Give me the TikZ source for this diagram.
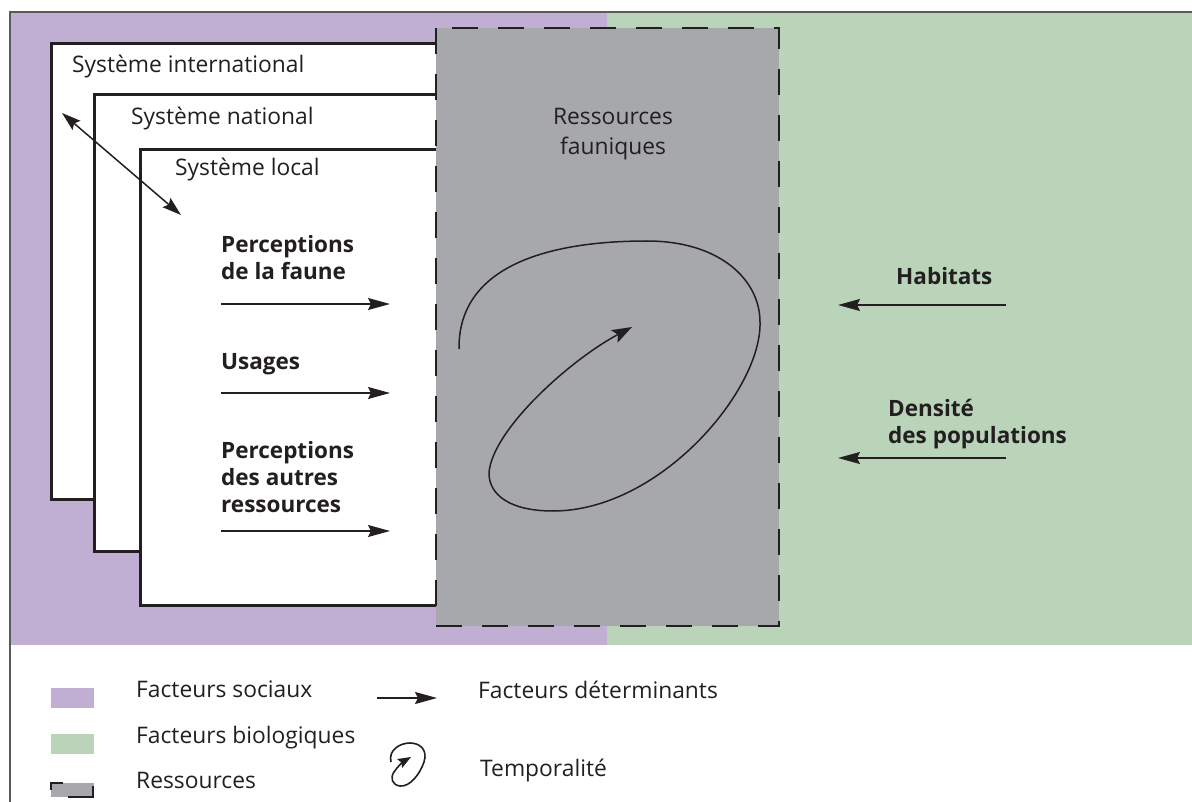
\documentclass[tikz,border=0pt]{standalone}
\usepackage{fontspec}
\setmainfont{Open Sans}
\usetikzlibrary{arrows.meta}
\definecolor{social}{RGB}{192,174,211}
\definecolor{bio}{RGB}{185,212,185}
\definecolor{resgray}{RGB}{167,168,171}
\definecolor{ink}{RGB}{35,31,32}
\definecolor{frame}{RGB}{90,90,90}
\tikzset{
  sysbox/.style={draw=ink, line width=3pt, fill=white},
  lbl/.style={anchor=base west, inner sep=0pt, text=ink, font=\fontsize{22.8}{30}\selectfont},
  blbl/.style={anchor=base west, inner sep=0pt, text=ink, font=\fontsize{22.5}{27}\selectfont\bfseries},
  det/.style={draw=ink, line width=1.5pt, -{Stealth[length=22pt,width=12pt,inset=3pt]}},
  dbl/.style={draw=ink, line width=1.5pt, {Stealth[length=19pt,width=12pt,inset=3pt]}-{Stealth[length=19pt,width=12pt,inset=3pt]}},
  spiral/.style={draw=ink, line width=1.5pt, -{Stealth[length=20pt,width=14pt,inset=4pt]}},
}
\begin{document}
\begin{tikzpicture}[x=1pt,y=-1pt]
\useasboundingbox (0,0) rectangle (1192,802);
% background areas
\fill[social] (10,12) rectangle (607,645);
\fill[bio] (607,12) rectangle (1192,645);
\draw[frame, line width=1.4pt] (1192,12) -- (10,12) -- (10,802);
% system boxes
\draw[sysbox] (51,44) rectangle (440,499);
\draw[sysbox] (94,95) rectangle (440,551);
\draw[sysbox] (140,150) rectangle (440,605);
\node[lbl] (sint) at (72,73) {Système international};
\node[lbl] (snat) at (131,125) {Système national};
\node[lbl] (sloc) at (175,176) {Système local};
% double arrow between systems
\coordinate (da1) at (62,113);
\coordinate (da2) at (181,215);
\draw[dbl] (da1) -- (da2);
% resources box
\draw[draw=ink, fill=resgray, line width=2.5pt, dash pattern=on 26pt off 20pt] (436,28) rectangle (779,626);
\node[lbl, anchor=base] (res) at (613,125) {\begin{tabular}[t]{@{}c@{}}Ressources\\fauniques\end{tabular}};
% spiral
\draw[spiral] (459,349) .. controls (458,270) and (540,241) .. (647,241)
  .. controls (720,241) and (760,280) .. (760,322)
  .. controls (762,390) and (660,511) .. (553,511)
  .. controls (510,511) and (489,495) .. (489,473)
  .. controls (492,430) and (570,360) .. (632,327);
% social determinants
\node[blbl] (pf) at (221,253) {\begin{tabular}[t]{@{}l@{}}Perceptions\\de la faune\end{tabular}};
\coordinate (pfa) at (221,304); \coordinate (pfb) at (390,304);
\draw[det] (pfa) -- (pfb);
\node[blbl] (us) at (221,370) {Usages};
\coordinate (usa) at (221,393); \coordinate (usb) at (390,393);
\draw[det] (usa) -- (usb);
\node[blbl] (pa) at (221,458) {\begin{tabular}[t]{@{}l@{}}Perceptions\\des autres\\ressources\end{tabular}};
\coordinate (paa) at (221,531); \coordinate (pab) at (390,531);
\draw[det] (paa) -- (pab);
% biological determinants
\node[blbl] (hab) at (896,285) {Habitats};
\coordinate (haba) at (1006,305); \coordinate (habb) at (838,305);
\draw[det] (haba) -- (habb);
\node[blbl] (den) at (888,417) {\begin{tabular}[t]{@{}l@{}}Densité\\des populations\end{tabular}};
\coordinate (dena) at (1006,458); \coordinate (denb) at (838,458);
\draw[det] (dena) -- (denb);
% legend
\fill[social] (51,688) rectangle (94,708);
\node[lbl] (lsoc) at (136,697) {Facteurs sociaux};
\fill[bio] (51,734) rectangle (94,754);
\node[lbl] (lbio) at (136,743) {Facteurs biologiques};
\fill[resgray] (51,783) rectangle (94,797);
\draw[ink, line width=1.6pt] (51,790) -- (51,783) -- (63,783);
\draw[ink, line width=1.6pt] (68,797) -- (93,797) -- (93,786);
\node[lbl] (lres) at (136,788) {Ressources};
\coordinate (lda) at (377,698); \coordinate (ldb) at (437,698);
\draw[det] (lda) -- (ldb);
\node[lbl] (ldet) at (478,698) {Facteurs déterminants};
\draw[draw=ink, line width=1.6pt, -{Stealth[length=13pt,width=10pt,inset=2pt]}] (391,762) .. controls (388,750) and (400,743) .. (410,743)
  .. controls (420,743) and (428,750) .. (424,762)
  .. controls (420,774) and (410,787) .. (400,786)
  .. controls (392,785) and (390,778) .. (394,772)
  .. controls (398,766) and (404,761) .. (411,757);
\node[lbl] (ltmp) at (480,776) {Temporalité};
\end{tikzpicture}
\end{document}
